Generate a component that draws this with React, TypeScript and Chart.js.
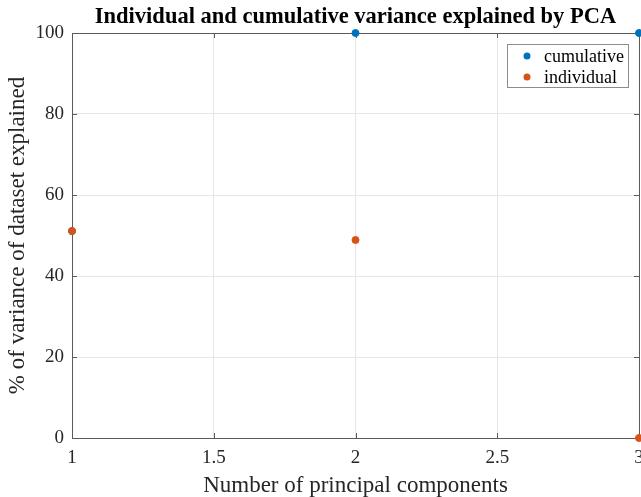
import React, { useEffect, useRef } from "react";
import { Chart, registerables } from "chart.js";

Chart.register(...registerables);

const components = [1, 2, 3];
const cumulative = [51.1, 100, 100];
const individual = [51.1, 48.9, 0];
const xTicks = [1, 1.5, 2, 2.5, 3];
const yTicks = [0, 20, 40, 60, 80, 100];
const titleText = "Individual and cumulative variance explained by PCA";
const xTitle = "Number of principal components";
const yTitle = "% of variance of dataset explained";

const FONT = "'Liberation Serif', 'Times New Roman', serif";
const TEXT = "#262626";
const AXIS = "#5a5a5a";

const boxPlugin = {
  id: "matlabBox",
  beforeDatasetsDraw(chart: any) {
    const { ctx, chartArea: a } = chart;
    const xs = chart.scales.x;
    const ys = chart.scales.y;
    ctx.save();
    ctx.strokeStyle = AXIS;
    ctx.lineWidth = 1;
    ctx.beginPath();
    ctx.rect(Math.round(a.left) + 0.5, Math.round(a.top) + 0.5, Math.round(a.right - a.left), Math.round(a.bottom - a.top));
    ctx.stroke();
    const tl = 5;
    ctx.beginPath();
    xTicks.forEach((v) => {
      const px = Math.round(xs.getPixelForValue(v)) + 0.5;
      ctx.moveTo(px, a.bottom);
      ctx.lineTo(px, a.bottom - tl);
      ctx.moveTo(px, a.top);
      ctx.lineTo(px, a.top + tl);
    });
    yTicks.forEach((v) => {
      const py = Math.round(ys.getPixelForValue(v)) + 0.5;
      ctx.moveTo(a.left, py);
      ctx.lineTo(a.left + tl, py);
      ctx.moveTo(a.right, py);
      ctx.lineTo(a.right - tl, py);
    });
    ctx.stroke();
    ctx.restore();
  },
  afterDraw(chart: any) {
    const { ctx, chartArea: a } = chart;
    ctx.save();
    // title
    ctx.fillStyle = "#000";
    ctx.font = `bold 22.5px ${FONT}`;
    ctx.textAlign = "center";
    ctx.textBaseline = "middle";
    ctx.fillText(titleText, (a.left + a.right) / 2, 17);
    // legend
    const bx = 507, by = 44, bw = 121, bh = 43;
    ctx.fillStyle = "#fff";
    ctx.fillRect(bx, by, bw, bh);
    ctx.strokeStyle = "#8c8c8c";
    ctx.lineWidth = 1;
    ctx.strokeRect(bx + 0.5, by + 0.5, bw, bh);
    ctx.font = `18px ${FONT}`;
    ctx.textAlign = "left";
    ctx.textBaseline = "middle";
    const rows = [chart.data.datasets[1], chart.data.datasets[0]];
    rows.forEach((ds: any, i: number) => {
      const cy = by + 12 + i * 21;
      ctx.fillStyle = ds.backgroundColor;
      ctx.beginPath();
      ctx.arc(527, cy, 3.5, 0, Math.PI * 2);
      ctx.fill();
      ctx.fillStyle = "#000";
      ctx.fillText(ds.label, 544, cy + 1);
    });
    ctx.restore();
  },
};

export default function App() {
  const ref = useRef<HTMLCanvasElement>(null);
  useEffect(() => {
    const canvas = ref.current!;
    const chart = new Chart(canvas, {
      type: "scatter",
      data: {
        datasets: [
          {
            label: "individual",
            data: components.map((c, i) => ({ x: c, y: individual[i] })),
            backgroundColor: "#D95319",
            borderColor: "#D95319",
            pointRadius: 3.5,
            pointHoverRadius: 3.5,
            clip: false as any,
            order: 0,
          },
          {
            label: "cumulative",
            data: components.map((c, i) => ({ x: c, y: cumulative[i] })),
            backgroundColor: "#0072BD",
            borderColor: "#0072BD",
            pointRadius: 3.5,
            pointHoverRadius: 3.5,
            clip: false as any,
            order: 1,
          },
        ],
      },
      options: {
        animation: false,
        responsive: false,
        events: [],
        layout: { padding: { top: 33, right: 21, left: 0, bottom: 0 } },
        plugins: {
          legend: { display: false },
          title: { display: false },
          tooltip: { enabled: false },
        },
        scales: {
          x: {
            type: "linear",
            min: 1,
            max: 3,
            afterBuildTicks: (s: any) => {
              s.ticks = xTicks.map((v) => ({ value: v }));
            },
            afterFit: (s: any) => {
              s.height = 59;
            },
            ticks: {
              callback: (v: any) => String(v),
              color: TEXT,
              font: { family: FONT, size: 19 },
              padding: 9,
              maxRotation: 0,
              autoSkip: false,
            },
            grid: { color: "#e6e6e6", drawTicks: false, lineWidth: 1 },
            border: { display: false },
            title: {
              display: true,
              text: xTitle,
              color: TEXT,
              font: { family: FONT, size: 23, lineHeight: 1 },
              padding: { top: 0, bottom: 0 },
            },
          },
          y: {
            type: "linear",
            min: 0,
            max: 100,
            afterBuildTicks: (s: any) => {
              s.ticks = yTicks.map((v) => ({ value: v }));
            },
            afterFit: (s: any) => {
              s.width = 72;
            },
            ticks: {
              callback: (v: any) => String(v),
              color: TEXT,
              font: { family: FONT, size: 19 },
              padding: 8,
              autoSkip: false,
            },
            grid: { color: "#e6e6e6", drawTicks: false, lineWidth: 1 },
            border: { display: false },
            title: {
              display: true,
              text: yTitle,
              color: TEXT,
              font: { family: FONT, size: 23, lineHeight: 1 },
              padding: { top: 6, bottom: 0 },
            },
          },
        },
      },
      plugins: [boxPlugin],
    });
    return () => chart.destroy();
  }, []);
  return (
    <div style={{ position: "fixed", left: 0, top: 0, width: 641, height: 497, overflow: "hidden", background: "#fff" }}>
      <canvas ref={ref} width={660} height={497} style={{ width: 660, height: 497, display: "block" }} />
    </div>
  );
}
